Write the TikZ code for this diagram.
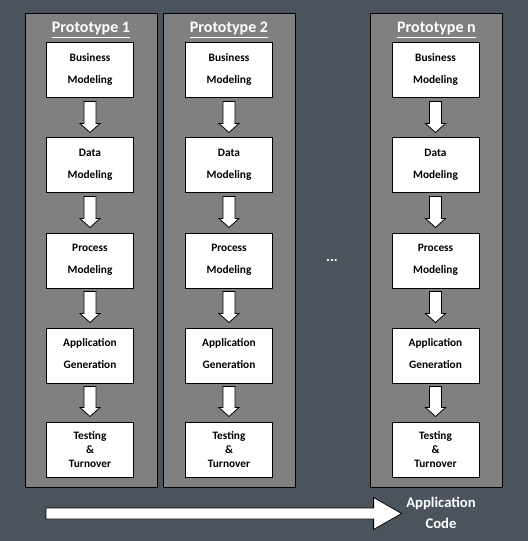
\documentclass[tikz,border=0pt]{standalone}
\usepackage{fontspec}
\setmainfont{Carlito}
\usetikzlibrary{calc,positioning}

\definecolor{slateBg}{HTML}{4B545C}
\definecolor{protoGray}{HTML}{808080}

\tikzset{
  protocol/.style={draw=black,line width=0.75pt,fill=protoGray,minimum width=99pt,minimum height=354.75pt,inner sep=0pt},
  boxbase/.style={draw=black,line width=0.75pt,fill=white,minimum width=65.25pt,minimum height=41.25pt,inner sep=0pt,align=center},
  stagebox/.style={boxbase,font=\bfseries\fontsize{8.5}{16.5}\selectfont,execute at end node={\rule[-3pt]{0pt}{0pt}}},
  lastbox/.style={boxbase,font=\bfseries\fontsize{8.5}{10.5}\selectfont},
  whitetext/.style={text=white,font=\bfseries\fontsize{11}{13}\selectfont},
  blockarrow/.style={draw=black,line width=0.6pt,fill=white,line join=miter},
}

% white block arrow from the bottom of one stage to the top of the next
\newcommand\stagearrow[2]{%
  \draw[blockarrow] ($(#1.south)+(-6,3)$) -- ($(#1.south)+(6,3)$) -- ($(#2.north)+(6,-14)$)
    -- ($(#2.north)+(10,-14)$) -- ($(#2.north)+(0,-5)$) -- ($(#2.north)+(-10,-14)$)
    -- ($(#2.north)+(-6,-14)$) -- cycle;}

\begin{document}
\begin{tikzpicture}[x=0.75pt,y=-0.75pt]
  \fill[slateBg] (0,0) rectangle (528,541);

  % Prototype 1
  \node[protocol] (p1) at (91,250.5) {};
  \node[whitetext,font=\bfseries\fontsize{12}{14}\selectfont] (t1) at (91,30) {\underline{Prototype 1}};
  \node[stagebox] (b1) at (90,70.5) {Business\\Modeling};
  \node[stagebox] (d1) at (90,165.5) {Data\\Modeling};
  \node[stagebox] (r1) at (90,260.5) {Process\\Modeling};
  \node[stagebox] (a1) at (90,355.5) {Application\\Generation};
  \node[lastbox] (s1) at (90,449.5) {Testing\\\&\\Turnover};

  % Prototype 2
  \node[protocol] (p2) at (229,250.5) {};
  \node[whitetext,font=\bfseries\fontsize{12}{14}\selectfont] (t2) at (229,30) {\underline{Prototype 2}};
  \node[stagebox] (b2) at (229,70.5) {Business\\Modeling};
  \node[stagebox] (d2) at (229,165.5) {Data\\Modeling};
  \node[stagebox] (r2) at (229,260.5) {Process\\Modeling};
  \node[stagebox] (a2) at (229,355.5) {Application\\Generation};
  \node[lastbox] (s2) at (229,449.5) {Testing\\\&\\Turnover};

  % Prototype n
  \node[protocol] (p3) at (436.5,250.5) {};
  \node[whitetext,font=\bfseries\fontsize{12}{14}\selectfont] (t3) at (436.5,30) {\underline{Prototype n}};
  \node[stagebox] (b3) at (435.5,70.5) {Business\\Modeling};
  \node[stagebox] (d3) at (435.5,165.5) {Data\\Modeling};
  \node[stagebox] (r3) at (435.5,260.5) {Process\\Modeling};
  \node[stagebox] (a3) at (435.5,355.5) {Application\\Generation};
  \node[lastbox] (s3) at (435.5,449.5) {Testing\\\&\\Turnover};

  \foreach \i in {1,2,3} {
    \stagearrow{b\i}{d\i}
    \stagearrow{d\i}{r\i}
    \stagearrow{r\i}{a\i}
    \stagearrow{a\i}{s\i}
  }

  \node[whitetext] (dots) at (332,261) {...};

  % bottom flow
  \node[whitetext,align=center,font=\bfseries\fontsize{11}{15.75}\selectfont] (code) at (441,512.5) {Application\\Code};
  \coordinate (flowstart) at (46,513.5);
  \draw[blockarrow] ($(flowstart)+(0,-5.5)$) -- ($(code.west |- flowstart)+(-28,-5.5)$)
    -- ($(code.west |- flowstart)+(-28,-16)$) -- (code.west |- flowstart)
    -- ($(code.west |- flowstart)+(-28,16)$) -- ($(code.west |- flowstart)+(-28,5.5)$)
    -- ($(flowstart)+(0,5.5)$) -- cycle;
\end{tikzpicture}
\end{document}
